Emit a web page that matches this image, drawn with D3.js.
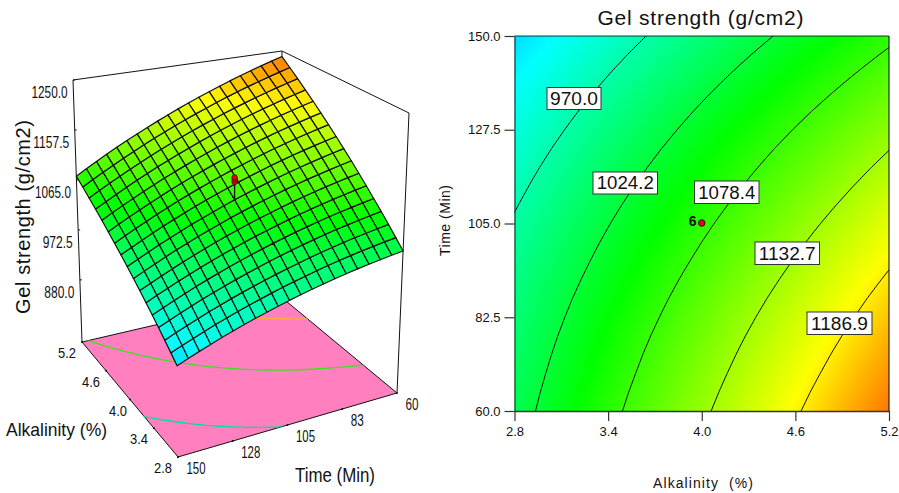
<!DOCTYPE html>
<html><head><meta charset="utf-8">
<script src="https://cdnjs.cloudflare.com/ajax/libs/d3/7.9.0/d3.min.js"></script>
<style>html,body{margin:0;padding:0;background:#fff}svg{display:block}text{font-family:"Liberation Sans",Arial,sans-serif;fill:#111}</style>
</head><body><svg id="c" width="899" height="493"></svg>
<script>
// ---- data ----
const alkalinityGrid=[2.8,2.92,3.04,3.16,3.28,3.4,3.52,3.64,3.76,3.88,4.0,4.12,4.24,4.36,4.48,4.6,4.72,4.84,4.96,5.08,5.2];
const timeGrid=[60,64.5,69,73.5,78,82.5,87,91.5,96,100.5,105,109.5,114,118.5,123,127.5,132,136.5,141,145.5,150];
const meshAlkalinity=[2.8,2.95,3.1,3.25,3.4,3.55,3.7,3.85,4.0,4.15,4.3,4.45,4.6,4.75,4.9,5.05,5.2];
const gelStrength=[
[1011.0,1022.8,1034.5,1046.2,1057.9,1069.5,1081.1,1092.6,1104.1,1115.6,1127.0,1138.4,1149.7,1161.0,1172.3,1183.5,1194.7,1205.8,1216.9,1228.0,1239.0],
[1008.2,1019.8,1031.4,1042.9,1054.4,1065.9,1077.3,1088.6,1100.0,1111.3,1122.5,1133.7,1144.9,1156.0,1167.1,1178.2,1189.2,1200.1,1211.1,1222.0,1232.8],
[1005.2,1016.6,1028.0,1039.4,1050.7,1062.0,1073.2,1084.4,1095.6,1106.7,1117.8,1128.8,1139.8,1150.8,1161.7,1172.6,1183.4,1194.2,1205.0,1215.7,1226.4],
[1002.0,1013.3,1024.5,1035.7,1046.8,1058.0,1069.0,1080.1,1091.0,1102.0,1112.9,1123.8,1134.6,1145.4,1156.1,1166.9,1177.5,1188.2,1198.7,1209.3,1219.8],
[998.6,1009.7,1020.8,1031.8,1042.8,1053.7,1064.6,1075.5,1086.3,1097.1,1107.8,1118.5,1129.2,1139.8,1150.4,1160.9,1171.4,1181.9,1192.3,1202.7,1213.0],
[994.9,1005.8,1016.7,1027.6,1038.4,1049.2,1059.9,1070.6,1081.2,1091.8,1102.4,1112.9,1123.4,1133.9,1144.3,1154.7,1165.0,1175.3,1185.5,1195.7,1205.9],
[991.0,1001.8,1012.5,1023.2,1033.8,1044.4,1055.0,1065.5,1076.0,1086.4,1096.8,1107.2,1117.5,1127.8,1138.0,1148.2,1158.4,1168.5,1178.6,1188.6,1198.6],
[986.8,997.4,1007.9,1018.5,1028.9,1039.4,1049.7,1060.1,1070.4,1080.7,1090.9,1101.1,1111.2,1121.4,1131.4,1141.5,1151.4,1161.4,1171.3,1181.2,1191.0],
[982.4,992.8,1003.2,1013.5,1023.8,1034.1,1044.3,1054.5,1064.6,1074.7,1084.8,1094.8,1104.8,1114.7,1124.6,1134.5,1144.3,1154.1,1163.8,1173.5,1183.2],
[977.8,988.1,998.3,1008.4,1018.6,1028.7,1038.7,1048.7,1058.7,1068.6,1078.5,1088.4,1098.2,1107.9,1117.7,1127.4,1137.0,1146.6,1156.2,1165.7,1175.2],
[973.0,983.1,993.1,1003.1,1013.1,1023.0,1032.9,1042.7,1052.5,1062.3,1072.0,1081.7,1091.3,1100.9,1110.5,1120.0,1129.5,1138.9,1148.3,1157.7,1167.0],
[967.9,977.8,987.7,997.5,1007.3,1017.1,1026.8,1036.4,1046.1,1055.7,1065.2,1074.7,1084.2,1093.6,1103.0,1112.4,1121.7,1130.9,1140.2,1149.4,1158.5],
[962.6,972.3,982.0,991.7,1001.3,1010.9,1020.4,1029.9,1039.4,1048.8,1058.2,1067.5,1076.8,1086.1,1095.3,1104.5,1113.6,1122.7,1131.8,1140.8,1149.8],
[957.1,966.7,976.2,985.7,995.1,1004.6,1013.9,1023.3,1032.5,1041.8,1051.0,1060.2,1069.3,1078.4,1087.4,1096.5,1105.4,1114.4,1123.2,1132.1,1140.9],
[951.4,960.8,970.2,979.5,988.8,998.0,1007.2,1016.4,1025.5,1034.6,1043.6,1052.6,1061.6,1070.5,1079.4,1088.2,1097.0,1105.8,1114.5,1123.2,1131.8],
[945.4,954.6,963.8,973.0,982.1,991.2,1000.2,1009.2,1018.1,1027.0,1035.9,1044.7,1053.5,1062.3,1071.0,1079.7,1088.3,1096.9,1105.4,1113.9,1122.4],
[939.2,948.3,957.3,966.3,975.2,984.1,993.0,1001.8,1010.6,1019.3,1028.0,1036.7,1045.3,1053.9,1062.4,1070.9,1079.4,1087.8,1096.2,1104.5,1112.8],
[932.7,941.6,950.4,959.3,968.0,976.8,985.4,994.1,1002.7,1011.3,1019.8,1028.3,1036.7,1045.2,1053.5,1061.9,1070.1,1078.4,1086.6,1094.8,1102.9],
[926.0,934.7,943.4,952.0,960.6,969.2,977.7,986.2,994.6,1003.0,1011.4,1019.7,1028.0,1036.2,1044.4,1052.6,1060.7,1068.8,1076.8,1084.8,1092.8],
[919.1,927.7,936.2,944.6,953.1,961.5,969.8,978.1,986.4,994.6,1002.8,1011.0,1019.1,1027.1,1035.2,1043.2,1051.1,1059.0,1066.9,1074.7,1082.5],
[912.0,920.4,928.7,937.0,945.3,953.5,961.7,969.8,977.9,986.0,994.0,1002.0,1009.9,1017.8,1025.7,1033.5,1041.3,1049.0,1056.7,1064.4,1072.0]];
const contourLevels=[970.0,1024.2,1078.4,1132.7,1186.9];
const floorLevels=[970.0,1078.4,1186.9];
const designPointAlk=4.0, designPointTime=105, designPointCount="6";
const designPointValues=[1112,1108,1104];
const zTicks=[880,972.5,1065,1157.5,1250];
const alkTicks=[2.8,3.4,4.0,4.6,5.2];
const timeTicks2D=[60,82.5,105,127.5,150];
const timeTicks3D=[60,82.5,105,127.5,150];
const timeTickLabels3D=["60","83","105","128","150"];
const titleText="Gel strength (g/cm2)";

// ---- shared ----
const svg=d3.select("#c");
const colour=d3.scaleLinear().domain([800,930,1050,1180,1290]).range(["#0000ff","#00ffff","#00ff00","#ffff00","#ff0000"]);
const flat=gelStrength.flat(), nA=alkalinityGrid.length, nT=timeGrid.length;
const contourGen=d3.contours().size([nA,nT]).smooth(true);
const idxA=d3.scaleLinear().domain([0.5,nA-0.5]).range([2.8,5.2]);
const idxT=d3.scaleLinear().domain([0.5,nT-0.5]).range([60,150]);
const colOf=d3.scaleLinear().domain([2.8,5.2]).range([0,nA-1]);
function gelAt(A,j){const f=colOf(A),i=Math.min(nA-2,Math.floor(f+1e-9)),s=f-i;return gelStrength[j][i]*(1-s)+gelStrength[j][i+1]*s;}
function label(g,s,x,y,opts){
  const t=g.append("text").attr("x",x).attr("y",y).attr("font-size",opts.size).attr("text-anchor",opts.anchor||"middle").text(s);
  if(opts.len) t.attr("textLength",opts.len).attr("lengthAdjust",opts.adjust||"spacingAndGlyphs");
  if(opts.rotate) t.attr("transform",`rotate(${opts.rotate} ${x} ${y})`);
  if(opts.weight) t.attr("font-weight",opts.weight);
  return t;
}

// ---- 3D panel ----
const g3=svg.append("g");
const floorC={a0t1:[178,457],a1t1:[82,342],a1t0:[280,296],a0t0:[397,393]};
const topC={a0t1:[175,156],a1t1:[73,80],a1t0:[282,51],a0t0:[409,113]};
const zFrac=d3.scaleLinear().domain([765,1250]).range([0,1]);
const uS=d3.scaleLinear().domain([2.8,5.2]).range([0,1]), vS=d3.scaleLinear().domain([60,150]).range([0,1]);
function bil(C,u,v,k){return (1-u)*(1-v)*C.a0t0[k]+u*(1-v)*C.a1t0[k]+(1-u)*v*C.a0t1[k]+u*v*C.a1t1[k];}
function proj(A,T,z){const u=uS(A),v=vS(T),f=zFrac(z);return [0,1].map(k=>bil(floorC,u,v,k)*(1-f)+bil(topC,u,v,k)*f);}
const floorZ=765, topZ=1250;
const poly=pts=>"M"+pts.map(p=>p.map(n=>n.toFixed(2)).join(",")).join("L")+"Z";
const line=pts=>"M"+pts.map(p=>p.map(n=>n.toFixed(2)).join(",")).join("L");
const box=[
 [proj(5.2,150,topZ),proj(5.2,60,topZ),proj(2.8,60,topZ)],
 [proj(5.2,150,topZ),proj(5.2,150,floorZ)],
 [proj(2.8,60,topZ),proj(2.8,60,floorZ)],
 [proj(5.2,60,topZ),proj(5.2,60,floorZ)]];
g3.selectAll("path.box").data(box).join("path").attr("class","box").attr("d",line).attr("fill","none").attr("stroke","#111").attr("stroke-width",1);
const floorPoly=[proj(2.8,150,floorZ),proj(5.2,150,floorZ),proj(5.2,60,floorZ),proj(2.8,60,floorZ)];
g3.append("path").attr("d",poly(floorPoly)).attr("fill","#ff7fbf").attr("stroke","#111").attr("stroke-width",1);
svg.append("clipPath").attr("id","floorClip").append("path").attr("d",poly(floorPoly));
const floorPath=d3.geoPath(d3.geoTransform({point(x,y){const p=proj(idxA(x),idxT(y),floorZ);this.stream.point(p[0],p[1]);}}));
const floorColour={970:"#00e0a0",1078.4:"#3fe020",1186.9:"#ffb040"};
g3.append("g").attr("clip-path","url(#floorClip)").selectAll("path").data(contourGen.thresholds(floorLevels)(flat)).join("path")
  .attr("d",floorPath).attr("fill","none").attr("stroke",d=>floorColour[d.value]).attr("stroke-width",1.3);
alkTicks.forEach(a=>{const p=proj(a,150,floorZ);g3.append("circle").attr("cx",p[0]).attr("cy",p[1]).attr("r",1).attr("fill","#111");});
timeTicks3D.forEach(t=>{const p=proj(2.8,t,floorZ);g3.append("circle").attr("cx",p[0]).attr("cy",p[1]).attr("r",1).attr("fill","#111");});
zTicks.forEach(z=>{const p=proj(5.2,150,z);g3.append("line").attr("x1",p[0]).attr("x2",p[0]+2).attr("y1",p[1]).attr("y2",p[1]).attr("stroke","#111");});
// surface
const quads=[];
for(let j=0;j<nT-1;j++)for(let i=0;i<meshAlkalinity.length-1;i++){
  const v=[[i,j],[i+1,j],[i+1,j+1],[i,j+1]];
  quads.push({pts:v.map(([a,b])=>proj(meshAlkalinity[a],timeGrid[b],gelAt(meshAlkalinity[a],b))),val:d3.mean(v,([a,b])=>gelAt(meshAlkalinity[a],b))});
}
g3.selectAll("path.q").data(quads).join("path").attr("class","q").attr("d",d=>poly(d.pts)).attr("fill",d=>colour(d.val))
  .attr("stroke","#111").attr("stroke-width",1.2).attr("stroke-linejoin","round");
// design point
const dpBase=proj(designPointAlk,designPointTime,gelStrength[10][10]);
const dpTop=proj(designPointAlk,designPointTime,d3.max(designPointValues));
g3.append("line").attr("x1",dpBase[0]).attr("y1",dpBase[1]).attr("x2",dpTop[0]).attr("y2",dpTop[1]).attr("stroke","#111").attr("stroke-width",1.4);
designPointValues.slice().reverse().forEach(z=>{const p=proj(designPointAlk,designPointTime,z);
  g3.append("circle").attr("cx",p[0]).attr("cy",p[1]).attr("r",2.8).attr("fill","#e00010").attr("stroke","#300").attr("stroke-width",.6);});
// 3D labels
zTicks.forEach(z=>{const p=proj(5.2,150,z);label(g3,z.toFixed(1),p[0]-5.5,p[1]+18,{size:16,anchor:"end",len:z>=1000?36:30});});
alkTicks.forEach(a=>{const p=proj(a,150,floorZ);label(g3,a.toFixed(1),p[0]-15+(a===4?3:0),p[1]+16,{size:15.5,len:18});});
timeTicks3D.forEach((t,i)=>{const p=proj(2.8,t,floorZ);const s=timeTickLabels3D[i];
  label(g3,s,p[0]+(t>=105?18:15),p[1]+17,{size:16,len:s.length>2?19:13});});
label(g3,titleText,30,314,{size:20,anchor:"start",rotate:-90,len:194,adjust:"spacing"});
label(g3,"Alkalinity (%)",6,436,{size:19,anchor:"start",len:101});
label(g3,"Time (Min)",295,482,{size:20,anchor:"start",len:80});

// ---- contour panel ----
const x=d3.scaleLinear().domain([2.8,5.2]).range([514.5,889]);
const y=d3.scaleLinear().domain([60,150]).range([411,36]);
const g2=svg.append("g");
const W=375,H=375,cv=document.createElement("canvas");cv.width=W;cv.height=H;
const ctx=cv.getContext("2d"),img=ctx.createImageData(W,H);
for(let py=0;py<H;py++)for(let px=0;px<W;px++){
  const fx=(px+.5)/W*(nA-1),fy=(1-(py+.5)/H)*(nT-1);
  const i=Math.min(nA-2,Math.floor(fx)),j=Math.min(nT-2,Math.floor(fy)),s=fx-i,t=fy-j;
  const v=(1-s)*(1-t)*gelStrength[j][i]+s*(1-t)*gelStrength[j][i+1]+(1-s)*t*gelStrength[j+1][i]+s*t*gelStrength[j+1][i+1];
  const c=d3.rgb(colour(v)),o=(py*W+px)*4;
  img.data[o]=c.r;img.data[o+1]=c.g;img.data[o+2]=c.b;img.data[o+3]=255;
}
ctx.putImageData(img,0,0);
g2.append("image").attr("href",cv.toDataURL()).attr("x",x(2.8)).attr("y",y(150)).attr("width",x(5.2)-x(2.8)).attr("height",y(60)-y(150)).attr("preserveAspectRatio","none");
svg.append("clipPath").attr("id","plotClip").append("rect").attr("x",x(2.8)).attr("y",y(150)).attr("width",x(5.2)-x(2.8)).attr("height",y(60)-y(150));
const planPath=d3.geoPath(d3.geoTransform({point(a,b){this.stream.point(x(idxA(a)),y(idxT(b)));}}));
g2.append("g").attr("clip-path","url(#plotClip)").selectAll("path").data(contourGen.thresholds(contourLevels)(flat)).join("path")
  .attr("d",planPath).attr("fill","none").attr("stroke","#111").attr("stroke-width",1);
g2.append("line").attr("x1",x(5.2)).attr("x2",x(5.2)).attr("y1",y(150)).attr("y2",y(60)).attr("stroke","#000").attr("stroke-opacity",.5).attr("stroke-width",2);
g2.append("line").attr("x1",x(2.8)).attr("x2",x(5.2)).attr("y1",y(150)).attr("y2",y(150)).attr("stroke","#000").attr("stroke-opacity",.8).attr("stroke-width",1);
const axX=g2.append("g").attr("transform",`translate(0,${y(60)})`).call(d3.axisBottom(x).tickValues(alkTicks).tickFormat(d3.format(".1f")).tickSize(10).tickSizeOuter(0).tickPadding(6));
const axY=g2.append("g").attr("transform",`translate(${x(2.8)},0)`).call(d3.axisLeft(y).tickValues(timeTicks2D).tickFormat(d3.format(".1f")).tickSize(10).tickSizeOuter(0).tickPadding(4));
[axX,axY].forEach(a=>{a.selectAll("path,line").attr("stroke","#333").attr("stroke-width",1.2);a.selectAll("text").attr("font-size",13).attr("font-family",'"Liberation Sans",Arial,sans-serif');});
axX.select("path.domain").attr("stroke-width",1.6);
const boxes=[["970.0",547,87.5,54,22],["1024.2",593,172,64.5,22],["1078.4",694.5,181,64.5,22.5],["1132.7",755,242,64.5,22.5],["1186.9",807,312,65,22.5]];
boxes.forEach(([s,bx,by,bw,bh])=>{
  g2.append("rect").attr("x",bx).attr("y",by).attr("width",bw).attr("height",bh).attr("fill","#fff").attr("stroke","#333").attr("stroke-width",1);
  label(g2,s,bx+bw/2,by+bh/2+6.4,{size:17.5,len:s.length>5?57:48});
});
g2.append("circle").attr("cx",x(designPointAlk)).attr("cy",y(designPointTime)-.5).attr("r",3.3).attr("fill","#ee0010").attr("stroke","#111").attr("stroke-width",.9);
label(g2,designPointCount,x(designPointAlk)-9,y(designPointTime)+2,{size:14,weight:"bold"});
label(g2,titleText,700.5,25,{size:21,len:206,adjust:"spacing"});
label(g2,"Alkalinity  (%)",703,488,{size:14,len:100,adjust:"spacing"}).attr("xml:space","preserve");
label(g2,"Time (Min)",450,220.5,{size:14,rotate:-90,len:71,adjust:"spacing"});
</script></body></html>
